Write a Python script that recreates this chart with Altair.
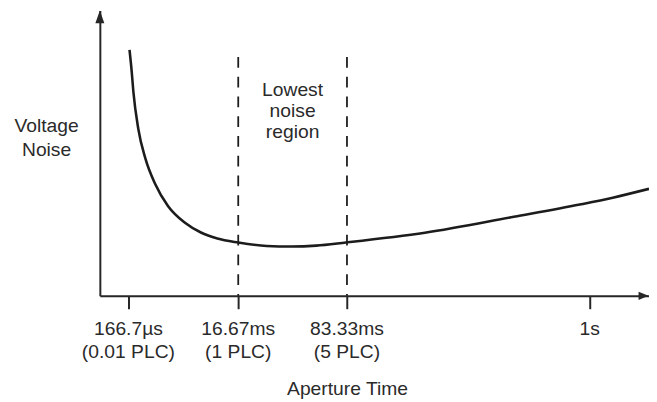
import altair as alt
import pandas as pd

# ---- data (schematic units: x 0-100 along the aperture-time axis, y 0-100 noise) ----
curve_x = [5.4, 5.8, 6.1, 7.0, 8.3, 10.1, 12.4, 15.5, 18.4, 21.4, 25.2, 30.4, 34.9, 39.4, 44.8, 59.2, 75.4, 87.4, 93.4, 100.0]
curve_y = [86.2, 78.6, 71.6, 58.5, 48.1, 39.1, 31.5, 25.6, 22.2, 20.1, 18.7, 17.5, 17.3, 17.6, 18.7, 22.1, 27.7, 32.0, 34.4, 37.5]

tick_x = [5.2, 25.2, 45.0, 89.2]
tick_line1 = ["166.7µs", "16.67ms", "83.33ms", "1s"]
tick_line2 = ["(0.01 PLC)", "(1 PLC)", "(5 PLC)", ""]

region_x = [25.2, 45.0]
region_top = [83.7, 83.7]
region_bottom = [0, 0]

x_domain = [0, 100]
y_domain = [0, 100]

INK = "#262626"
TXT = "#2a2a2a"
FONT = "Liberation Sans"
FS = 19.5

xs = alt.Scale(domain=x_domain, nice=False, zero=False)
ys = alt.Scale(domain=y_domain, nice=False, zero=False)

xaxis = alt.Axis(values=tick_x, labels=False, ticks=True, tickSize=13, tickWidth=2,
                 tickColor=INK, domainColor=INK, domainWidth=2, grid=False, title=None)
yaxis = alt.Axis(labels=False, ticks=False, domainColor=INK, domainWidth=2, grid=False, title=None)

curve_df = pd.DataFrame({"x": curve_x, "y": curve_y})
curve = alt.Chart(curve_df).mark_line(color="#1c1c1c", strokeWidth=2.6, interpolate="monotone").encode(
    x=alt.X("x:Q", scale=xs, axis=xaxis),
    y=alt.Y("y:Q", scale=ys, axis=yaxis),
)

region_df = pd.DataFrame({"x": region_x, "top": region_top, "bottom": region_bottom})
rules = alt.Chart(region_df).mark_rule(color="#1c1c1c", strokeWidth=1.8, strokeDash=[11, 9]).encode(
    x=alt.X("x:Q", scale=xs), y=alt.Y("top:Q", scale=ys), y2="bottom:Q"
)

arrow_right = alt.Chart(pd.DataFrame({"x": [x_domain[1] - 0.1], "y": [y_domain[0]]})).mark_point(
    shape="M0,0L-1,-0.42L-1,0.42Z", size=400, filled=True, color=INK, opacity=1, strokeWidth=0
).encode(x=alt.X("x:Q", scale=xs), y=alt.Y("y:Q", scale=ys))

arrow_up = alt.Chart(pd.DataFrame({"x": [x_domain[0]], "y": [y_domain[1]]})).mark_point(
    shape="M0,0L-0.35,1L0.35,1Z", size=676, filled=True, color=INK, opacity=1, strokeWidth=0
).encode(x=alt.X("x:Q", scale=xs), y=alt.Y("y:Q", scale=ys))

tick_df = pd.DataFrame({"x": tick_x, "l1": tick_line1, "l2": tick_line2})
lab1 = alt.Chart(tick_df).mark_text(font=FONT, fontSize=FS, color=TXT, baseline="alphabetic", align="center").encode(
    x=alt.X("x:Q", scale=xs), y=alt.datum(-13.8), text="l1:N"
)
lab2 = alt.Chart(tick_df).mark_text(font=FONT, fontSize=FS, color=TXT, baseline="alphabetic", align="center").encode(
    x=alt.X("x:Q", scale=xs), y=alt.datum(-21.6), text="l2:N"
)

xtitle = alt.Chart(pd.DataFrame({"x": [45.1], "y": [-34.6], "t": ["Aperture Time"]})).mark_text(
    font=FONT, fontSize=FS, color=TXT, baseline="alphabetic", align="center"
).encode(x=alt.X("x:Q", scale=xs), y=alt.Y("y:Q", scale=ys), text="t:N")

ytitle = alt.Chart(pd.DataFrame({"x": [-9.7], "y": [57.4], "t": ["Voltage\nNoise"]})).mark_text(
    font=FONT, fontSize=FS, color=TXT, baseline="alphabetic", align="center", lineBreak="\n", lineHeight=24
).encode(x=alt.X("x:Q", scale=xs), y=alt.Y("y:Q", scale=ys), text="t:N")

region_label = alt.Chart(pd.DataFrame({"x": [35.1], "y": [69.9], "t": ["Lowest\nnoise\nregion"]})).mark_text(
    font=FONT, fontSize=FS, color=TXT, baseline="alphabetic", align="center", lineBreak="\n", lineHeight=21
).encode(x=alt.X("x:Q", scale=xs), y=alt.Y("y:Q", scale=ys), text="t:N")

chart = alt.layer(curve, rules, arrow_right, arrow_up, lab1, lab2, xtitle, ytitle, region_label).properties(
    width=556, height=289,
    autosize=alt.AutoSizeParams(type="none"),
    padding={"left": 93, "top": 0, "right": 0, "bottom": 105},
    background="white",
).configure_view(strokeWidth=0)

chart.save("out.html", embed_options={"renderer": "svg", "actions": False})
